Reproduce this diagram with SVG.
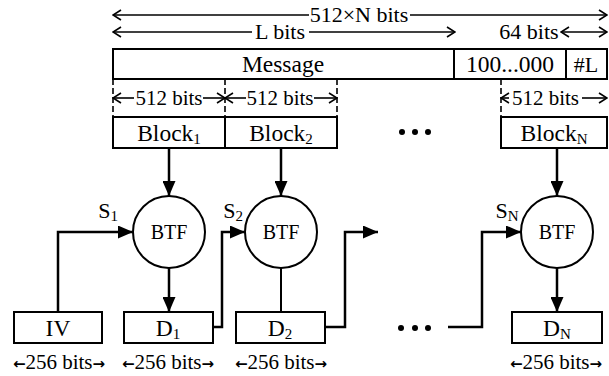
<svg xmlns="http://www.w3.org/2000/svg" width="609" height="376" viewBox="0 0 609 376" font-family="'Liberation Serif', serif">
<defs>
<style>
text{font-family:'Liberation Serif', serif;fill:#000;}
.t{font-size:22px;text-anchor:middle;}
.m{font-size:23.5px;text-anchor:middle;}
.s{font-size:21px;text-anchor:middle;}
.b{font-size:20px;text-anchor:middle;}
.sub{font-size:15px;}
.ar{font-family:'DejaVu Sans', sans-serif;font-size:15px;font-weight:bold;}
.box{fill:#fff;stroke:#000;stroke-width:2;}
.dim{fill:none;stroke:#000;stroke-width:1.6;}
.dash{fill:none;stroke:#000;stroke-width:1.6;stroke-dasharray:6 3;}
.con{fill:none;stroke:#000;stroke-width:2.5;}
.thin{fill:none;stroke:#000;stroke-width:2;}
.circ{fill:#fff;stroke:#000;stroke-width:2;}
</style>
<marker id="ah" viewBox="0 0 15 13" refX="15" refY="6.5" markerWidth="15" markerHeight="13" markerUnits="userSpaceOnUse" orient="auto">
<path d="M0,0 L15,6.5 L0,13 Z" fill="#000"/>
</marker>
<marker id="chev" viewBox="0 0 10 12" refX="9" refY="6" markerWidth="10" markerHeight="12" markerUnits="userSpaceOnUse" orient="auto-start-reverse">
<path d="M1,1 L9,6 L1,11" fill="none" stroke="#000" stroke-width="1.6"/>
</marker>
</defs>

<g id="dimensions">
<line class="dim" x1="113" y1="15" x2="309" y2="15" marker-start="url(#chev)"/>
<line class="dim" x1="410" y1="15" x2="607" y2="15" marker-end="url(#chev)"/>
<text class="t" x="359" y="22">512×N bits</text>
<line class="dim" x1="113" y1="32" x2="252" y2="32" marker-start="url(#chev)"/>
<line class="dim" x1="309" y1="32" x2="455" y2="32" marker-end="url(#chev)"/>
<text class="t" x="280" y="39">L bits</text>
<text class="t" x="529" y="39">64 bits</text>
<line class="dim" x1="561" y1="32" x2="607" y2="32" marker-start="url(#chev)" marker-end="url(#chev)"/>
<line class="dash" x1="113" y1="79" x2="113" y2="117"/>
<line class="dash" x1="225" y1="79" x2="225" y2="117"/>
<line class="dash" x1="337" y1="79" x2="337" y2="117"/>
<line class="dash" x1="501" y1="79" x2="501" y2="117"/>
<line class="dim" x1="113" y1="98" x2="134" y2="98" marker-start="url(#chev)"/>
<line class="dim" x1="203" y1="98" x2="225" y2="98" marker-end="url(#chev)"/>
<text class="s" x="169" y="105">512 bits</text>
<line class="dim" x1="225" y1="98" x2="246" y2="98" marker-start="url(#chev)"/>
<line class="dim" x1="314" y1="98" x2="337" y2="98" marker-end="url(#chev)"/>
<text class="s" x="280" y="105">512 bits</text>
<line class="dim" x1="501" y1="98" x2="509" y2="98" marker-start="url(#chev)"/>
<line class="dim" x1="582" y1="98" x2="607" y2="98" marker-end="url(#chev)"/>
<text class="s" x="545.5" y="105">512 bits</text>
</g>

<g id="message">
<rect class="box" x="113" y="49" width="494" height="30"/>
<line class="thin" x1="454" y1="49" x2="454" y2="79"/>
<line class="thin" x1="566" y1="49" x2="566" y2="79"/>
<text class="m" x="283" y="72">Message</text>
<text class="m" x="510" y="72">100...000</text>
<text class="t" x="586" y="72">#L</text>
</g>

<g id="block1">
<rect class="box" x="113" y="117" width="112" height="31"/>
<text class="m" x="169" y="141">Block<tspan class="sub" dy="3">1</tspan></text>
</g>
<g id="block2">
<rect class="box" x="225" y="117" width="112" height="31"/>
<text class="m" x="281" y="141">Block<tspan class="sub" dy="3">2</tspan></text>
</g>
<g id="blockN">
<rect class="box" x="501" y="117" width="106" height="31"/>
<text class="m" x="554" y="141">Block<tspan class="sub" dy="3">N</tspan></text>
</g>

<g id="dots">
<circle cx="402" cy="132" r="3"/>
<circle cx="415" cy="132" r="3"/>
<circle cx="428" cy="132" r="3"/>
<circle cx="401" cy="328" r="3"/>
<circle cx="415" cy="328" r="3"/>
<circle cx="428" cy="328" r="3"/>
</g>

<g id="connectors">
<line class="con" x1="169" y1="148" x2="169" y2="196" marker-end="url(#ah)"/>
<line class="con" x1="281" y1="148" x2="281" y2="196" marker-end="url(#ah)"/>
<line class="con" x1="557" y1="148" x2="557" y2="196" marker-end="url(#ah)"/>
<line class="con" x1="169" y1="268" x2="169" y2="312" marker-end="url(#ah)"/>
<line class="thin" x1="281" y1="268" x2="281" y2="312"/>
<line class="con" x1="557" y1="268" x2="557" y2="312" marker-end="url(#ah)"/>
<path class="con" d="M58,312 V232 H133" marker-end="url(#ah)"/>
<path class="con" d="M213,327 H222 V232 H245" marker-end="url(#ah)"/>
<path class="con" d="M325,327 H345 V232 H378" marker-end="url(#ah)"/>
<path class="con" d="M448,327 H482 V232 H521" marker-end="url(#ah)"/>
</g>

<g id="labels">
<text class="t" x="108" y="218">S<tspan class="sub" dy="3">1</tspan></text>
<text class="t" x="233" y="218">S<tspan class="sub" dy="3">2</tspan></text>
<text class="t" x="507" y="218">S<tspan class="sub" dy="3">N</tspan></text>
</g>

<g id="btf1">
<circle class="circ" cx="169" cy="232" r="36"/>
<text class="b" x="169" y="239">BTF</text>
</g>
<g id="btf2">
<circle class="circ" cx="281" cy="232" r="36"/>
<text class="b" x="281" y="239">BTF</text>
</g>
<g id="btfN">
<circle class="circ" cx="557" cy="232" r="36"/>
<text class="b" x="557" y="239">BTF</text>
</g>

<g id="iv">
<rect class="box" x="14" y="312" width="88" height="31"/>
<text class="m" x="58" y="336">IV</text>
</g>
<g id="d1">
<rect class="box" x="124" y="312" width="89" height="31"/>
<text class="m" x="168" y="336">D<tspan class="sub" dy="3">1</tspan></text>
</g>
<g id="d2">
<rect class="box" x="236" y="312" width="89" height="31"/>
<text class="m" x="280" y="336">D<tspan class="sub" dy="3">2</tspan></text>
</g>
<g id="dN">
<rect class="box" x="512" y="312" width="90" height="31"/>
<text class="m" x="557" y="336">D<tspan class="sub" dy="3">N</tspan></text>
</g>

<g id="sizes">
<text class="s" x="59" y="369"><tspan class="ar">←</tspan>256 bits<tspan class="ar">→</tspan></text>
<text class="s" x="168" y="369"><tspan class="ar">←</tspan>256 bits<tspan class="ar">→</tspan></text>
<text class="s" x="281" y="369"><tspan class="ar">←</tspan>256 bits<tspan class="ar">→</tspan></text>
<text class="s" x="556" y="369"><tspan class="ar">←</tspan>256 bits<tspan class="ar">→</tspan></text>
</g>
</svg>
